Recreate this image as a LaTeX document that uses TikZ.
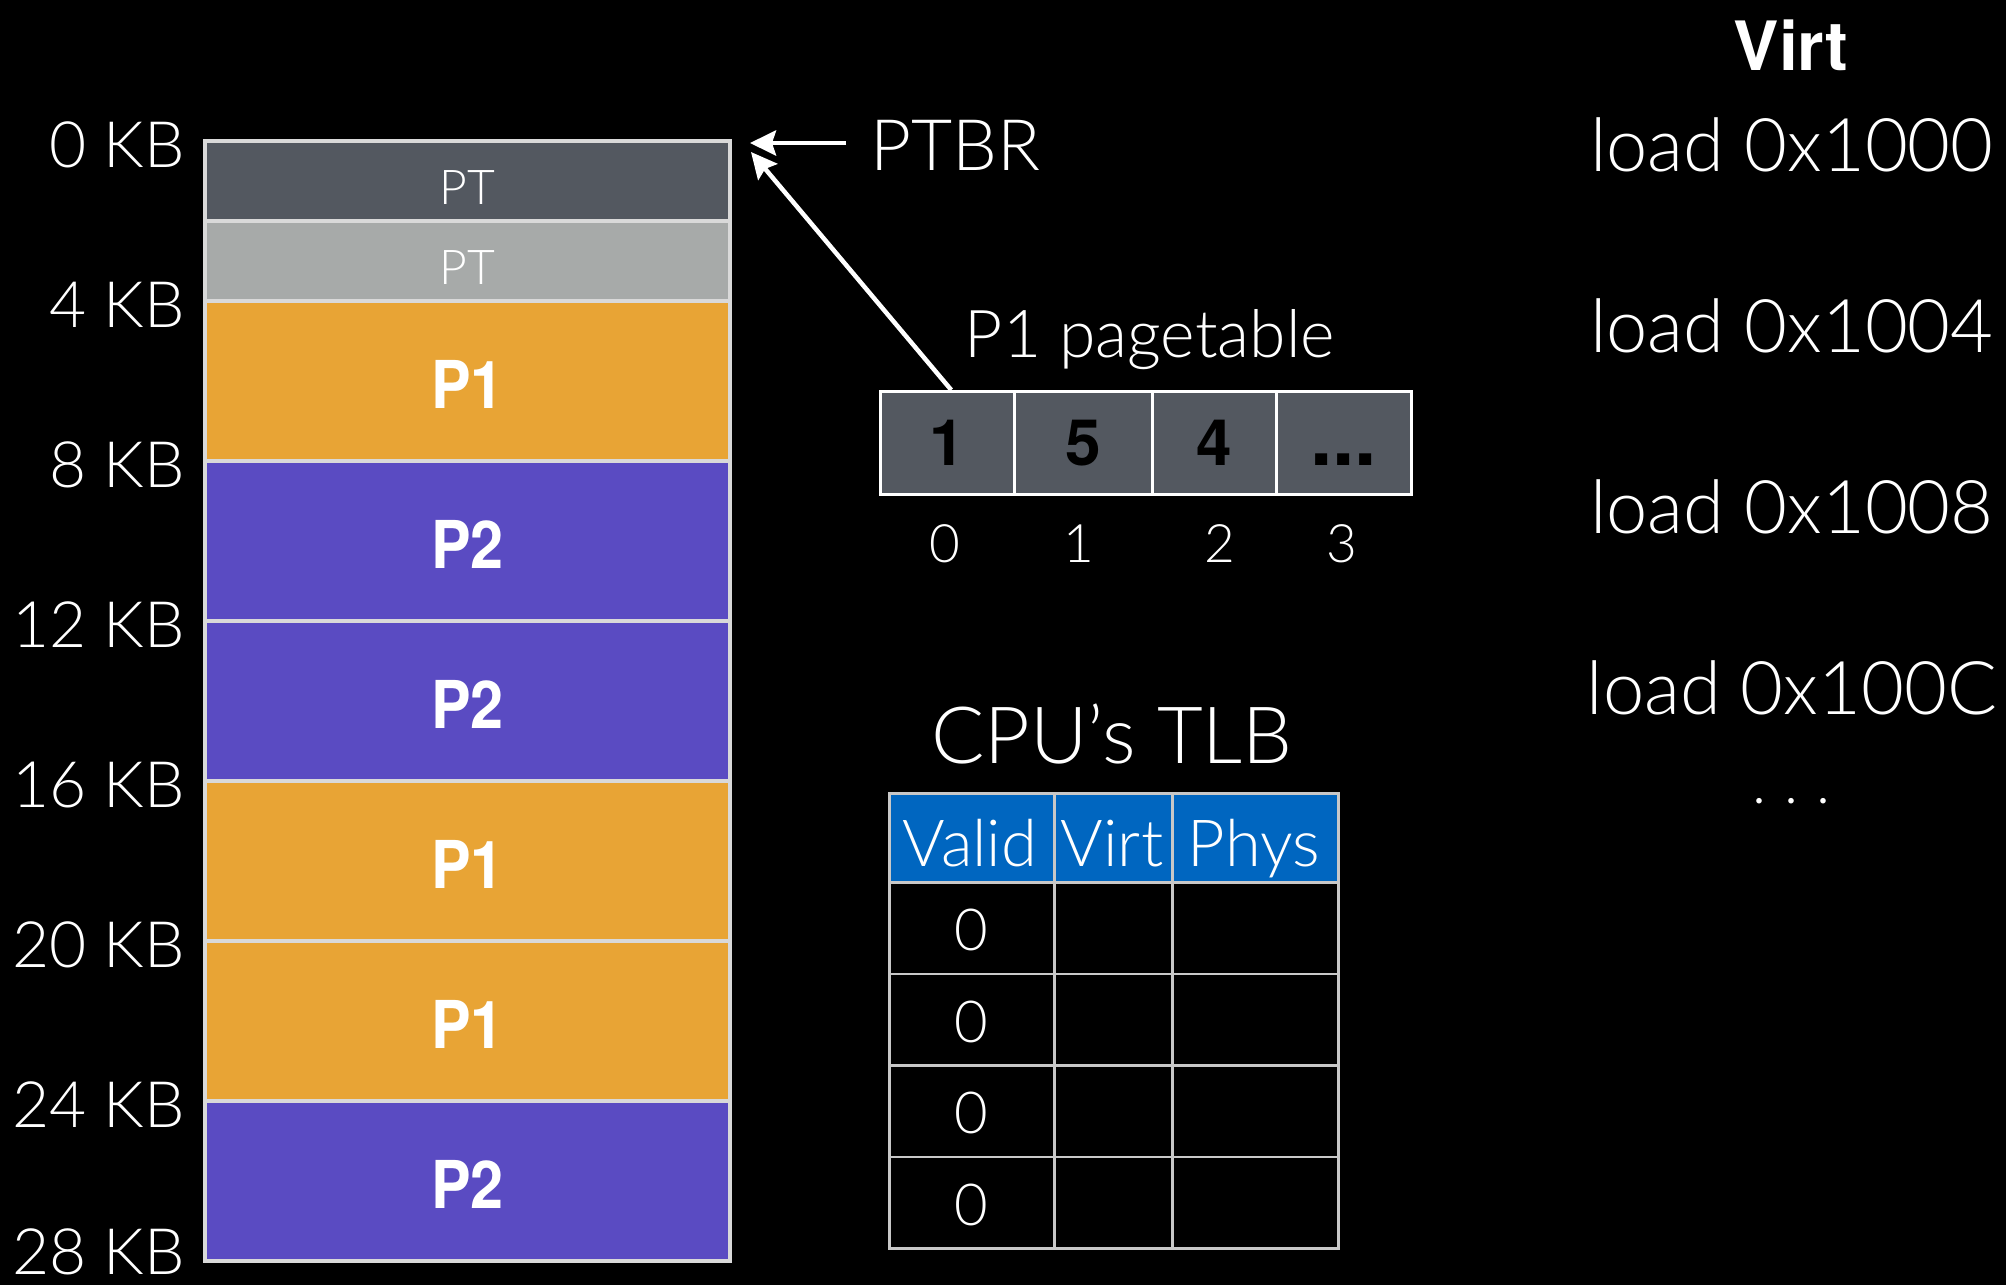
\documentclass[tikz,border=0pt]{standalone}
\usepackage{fontspec}
\IfFontExistsTF{Lato Light}
  {\setmainfont{Lato Light}}
  {\setmainfont{TeX Gyre Heros}}
\newfontfamily\heavyfont{TeX Gyre Heros}[FakeStretch=0.9]
\newfontfamily\heavywide{TeX Gyre Heros}
\usetikzlibrary{arrows.meta}

\definecolor{ptdark}{HTML}{535860}
\definecolor{ptlight}{HTML}{A7AAA9}
\definecolor{porange}{HTML}{E8A435}
\definecolor{ppurple}{HTML}{5A4BC2}
\definecolor{segedge}{HTML}{D9D9D9}
\definecolor{tlbblue}{HTML}{0066C0}
\definecolor{gridgray}{HTML}{C8C8C8}

\newcommand\pxsize[1]{\fontsize{#1}{#1}\selectfont}

\tikzset{
  seg/.style={draw=segedge, line width=3.5pt, minimum width=525pt, inner sep=0pt,
    outer sep=0pt, anchor=north west},
  segtext/.style={text=white, inner sep=0pt},
  kblabel/.style={text=white, anchor=base east, inner sep=0pt, font=\pxsize{64}},
  ptcell/.style={draw=white, line width=2.5pt, fill=ptdark, minimum height=103pt,
    text height=45pt, text depth=0pt, inner sep=0pt, anchor=north west,
    font=\heavywide\pxsize{64}\bfseries, text=black},
  idx/.style={text=white, inner sep=0pt, font=\pxsize{53}},
  tlbcell/.style={draw=gridgray, line width=2.5pt, inner sep=0pt, anchor=north west},
  tlbhead/.style={tlbcell, fill=tlbblue, minimum height=89pt},
  tlbrow/.style={tlbcell, fill=black, minimum height=91.5pt},
  headtext/.style={text=white, inner sep=0pt, anchor=base, font=\pxsize{65}},
  zero/.style={text=white, inner sep=0pt, font=\pxsize{58}},
  loadtext/.style={text=white, inner sep=0pt, anchor=base, font=\pxsize{74}},
  arr/.style={draw=white, line width=4.5pt,
    -{Stealth[length=26pt, width=25pt, inset=4pt]}},
}

\begin{document}
\begin{tikzpicture}[x=1pt, y=-1pt]
  \fill[black] (0,0) rectangle (2006,1285);
  \useasboundingbox (0,0) rectangle (2006,1285);

  % physical memory, 28 KB in 4 KB frames (first frame split into two page tables)
  \node[seg, fill=ptdark,   minimum height=80pt]  (m0) at (205,141)  {};
  \node[seg, fill=ptlight,  minimum height=80pt]  (m1) at (205,221)  {};
  \node[seg, fill=porange,  minimum height=160pt] (m2) at (205,301)  {};
  \node[seg, fill=ppurple,  minimum height=160pt] (m3) at (205,461)  {};
  \node[seg, fill=ppurple,  minimum height=160pt] (m4) at (205,621)  {};
  \node[seg, fill=porange,  minimum height=160pt] (m5) at (205,781)  {};
  \node[seg, fill=porange,  minimum height=160pt] (m6) at (205,941)  {};
  \node[seg, fill=ppurple,  minimum height=160pt] (m7) at (205,1101) {};

  \node[segtext, font=\pxsize{48}] (m0t) at ([yshift=-7pt]m0.center) {PT};
  \node[segtext, font=\pxsize{48}] (m1t) at ([yshift=-7pt]m1.center) {PT};
  \node[segtext, font=\heavyfont\pxsize{66}\bfseries] (m2t) at ([yshift=-3pt]m2.center) {P1};
  \node[segtext, font=\heavyfont\pxsize{66}\bfseries] (m3t) at ([yshift=-3pt]m3.center) {P2};
  \node[segtext, font=\heavyfont\pxsize{66}\bfseries] (m4t) at ([yshift=-3pt]m4.center) {P2};
  \node[segtext, font=\heavyfont\pxsize{66}\bfseries] (m5t) at ([yshift=-3pt]m5.center) {P1};
  \node[segtext, font=\heavyfont\pxsize{66}\bfseries] (m6t) at ([yshift=-3pt]m6.center) {P1};
  \node[segtext, font=\heavyfont\pxsize{66}\bfseries] (m7t) at ([yshift=-3pt]m7.center) {P2};

  % address marks
  \node[kblabel] (kb0)  at (185,167)  {0 KB};
  \node[kblabel] (kb4)  at (185,327)  {4 KB};
  \node[kblabel] (kb8)  at (185,487)  {8 KB};
  \node[kblabel] (kb12) at (185,647)  {12 KB};
  \node[kblabel] (kb16) at (185,807)  {16 KB};
  \node[kblabel] (kb20) at (185,967)  {20 KB};
  \node[kblabel] (kb24) at (185,1127) {24 KB};
  \node[kblabel] (kb28) at (185,1274) {28 KB};

  % page table base register
  \node[text=white, anchor=base west, inner sep=0pt, font=\pxsize{71}] (ptbr) at (870,170) {PTBR};
  \coordinate (ptbrtip) at (750,143);
  \draw[arr] (846,143) coordinate (ptbrtail) -- (ptbrtip);

  % P1 page table
  \node[text=white, anchor=base, inner sep=0pt, font=\pxsize{66}] (pttitle) at (1150,357) {P1 pagetable};
  \node[ptcell, minimum width=134pt] (c0) at (879,390)  {1};
  \node[ptcell, minimum width=138pt] (c1) at (1013,390) {5};
  \node[ptcell, minimum width=124pt] (c2) at (1151,390) {4};
  \node[ptcell, minimum width=135pt, font=\heavywide\pxsize{80}\bfseries] (c3) at (1275,390) {...};
  \node[idx] (i0) at (945,544)  {0};
  \node[idx] (i1) at (1079,544) {1};
  \node[idx] (i2) at (1220,544) {2};
  \node[idx] (i3) at (1342,544) {3};

  \coordinate (pttip) at (751,152);
  \draw[arr] ([xshift=4pt]c0.north) -- (pttip);

  % TLB
  \node[text=white, anchor=base, inner sep=0pt, font=\pxsize{79}] (tlbtitle) at (1112,763) {CPU's TLB};

  \node[tlbhead, minimum width=165pt] (h0) at (888,792)  {};
  \node[tlbhead, minimum width=118pt] (h1) at (1053,792) {};
  \node[tlbhead, minimum width=166pt] (h2) at (1171,792) {};
  \node[headtext] (h0t) at (970,866)  {Valid};
  \node[headtext] (h1t) at (1112,866) {Virt};
  \node[headtext] (h2t) at (1254,866) {Phys};

  \foreach \r/\y in {1/881, 2/972.5, 3/1064, 4/1155.5} {
    \node[tlbrow, minimum width=165pt] (r\r a) at (888,\y)  {};
    \node[tlbrow, minimum width=118pt] (r\r b) at (1053,\y) {};
    \node[tlbrow, minimum width=166pt] (r\r c) at (1171,\y) {};
    \node[zero] (r\r z) at ([yshift=-2pt]r\r a.center) {0};
  }

  % virtual address trace
  \node[text=white, anchor=base, inner sep=0pt, font=\heavywide\pxsize{68}\bfseries] (virt) at (1791,70) {Virt};
  \node[loadtext] (l0) at (1792,171) {load 0x1000};
  \node[loadtext] (l1) at (1792,352) {load 0x1004};
  \node[loadtext] (l2) at (1792,533) {load 0x1008};
  \node[loadtext] (l3) at (1792,714) {load 0x100C};
  \node[text=white, anchor=base, inner sep=0pt, font=\pxsize{60}] (ldots) at (1791,803) {.\hspace{0.3em}.\hspace{0.3em}.};
\end{tikzpicture}
\end{document}
